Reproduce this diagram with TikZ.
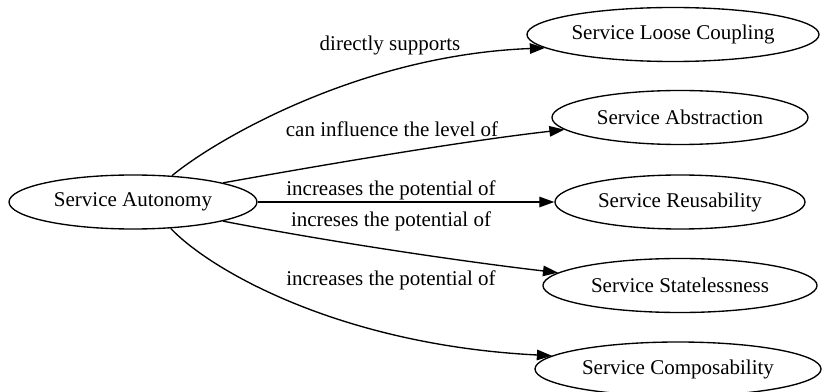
\documentclass[tikz,border=0pt]{standalone}
\usepackage{fontspec}
\setmainfont{Liberation Serif}
\usetikzlibrary{shapes.geometric,arrows.meta}
\begin{document}
\begin{tikzpicture}[x=0.6667pt,y=-0.6667pt,
  concept/.style={draw,ellipse,inner sep=0pt,line width=0.9pt,minimum height=36pt,font=\fontsize{14}{16}\selectfont},
  rel/.style={line width=0.9pt,-{Triangle[length=10pt,width=7pt]}},
  lbl/.style={inner sep=0pt,font=\fontsize{14}{16}\selectfont}]
\useasboundingbox (0,0) rectangle (823,392);
% concepts
\node[concept,minimum width=165.3pt] (aut)   at (133,202)   {Service Autonomy};
\node[concept,minimum width=194.7pt] (loose) at (673,34.5)  {Service Loose Coupling};
\node[concept,minimum width=170.7pt] (abs)   at (680,117.5) {Service Abstraction};
\node[concept,minimum width=166.7pt] (reus)  at (680,202)   {Service Reusability};
\node[concept,minimum width=182.7pt] (state) at (680,285.5) {Service Statelessness};
\node[concept,minimum width=190.7pt] (comp)  at (678,369)   {Service Composability};
% relations
\draw[rel] (aut.34) .. controls (215,140) and (360,55) .. (loose.186);
\draw[rel] (aut.12) .. controls (300,169) and (455,142) .. (abs.186);
\draw[rel] (aut.east) -- (reus.west);
\draw[rel] (aut.-12) .. controls (320,240) and (450,260) .. (state.174);
\draw[rel] (aut.-35) .. controls (210,270) and (340,345) .. (comp.174);
% relation labels
\node[lbl] (l1) at (390,45)  {directly supports};
\node[lbl] (l2) at (392,129) {can influence the level of};
\node[lbl] (l3) at (391,190) {increases the potential of};
\node[lbl] (l4) at (391,221) {increses the potential of};
\node[lbl] (l5) at (391,280) {increases the potential of};
\end{tikzpicture}
\end{document}
